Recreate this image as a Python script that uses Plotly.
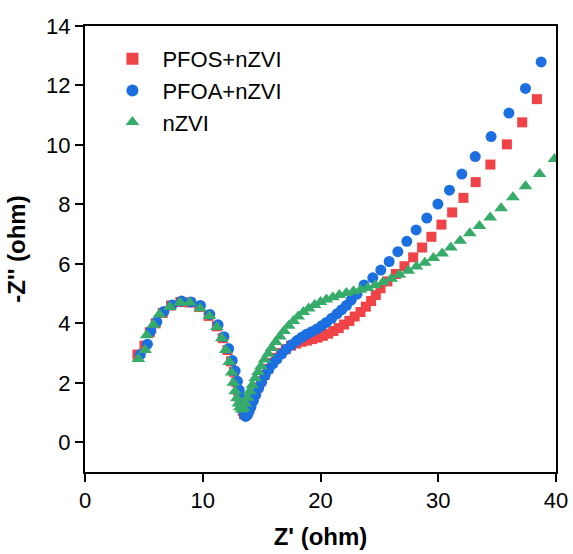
import plotly.graph_objects as go

# PFOS+nZVI (red squares)
pfos_x = [4.45, 5.05, 5.5, 6.0, 6.6, 7.3, 8.1, 8.9, 9.7, 10.5, 11.2, 11.7, 12.1, 12.4, 12.65, 12.85,
          13.0, 13.15, 13.28, 13.4, 13.5, 13.62, 13.75, 13.9, 14.05, 14.25, 14.45, 14.7, 14.95, 15.25,
          15.55, 15.9, 16.25, 16.65, 17.05, 17.5, 17.95, 18.4, 18.85, 19.3, 19.75, 20.2, 20.65, 21.1,
          21.55, 22.0, 22.45, 22.9, 23.4, 23.85, 24.3, 24.7, 25.1, 25.68, 26.4, 27.13, 27.87, 28.63,
          29.42, 30.27, 31.18, 32.14, 33.18, 34.43, 35.83, 37.13, 38.38]
pfos_y = [2.95, 3.25, 3.7, 4.0, 4.35, 4.6, 4.72, 4.7, 4.55, 4.25, 3.9, 3.5, 3.1, 2.72, 2.37, 2.03,
          1.73, 1.46, 1.23, 1.05, 0.95, 0.92, 0.98, 1.1, 1.25, 1.45, 1.63, 1.85, 2.05, 2.27,
          2.47, 2.67, 2.84, 3.0, 3.13, 3.25, 3.32, 3.38, 3.42, 3.47, 3.52, 3.58, 3.65, 3.74,
          3.84, 3.96, 4.08, 4.23, 4.38, 4.56, 4.75, 4.95, 5.18, 5.41, 5.66, 5.92, 6.22, 6.55,
          6.91, 7.32, 7.73, 8.22, 8.75, 9.34, 10.02, 10.76, 11.54]

# PFOA+nZVI (blue circles)
pfoa_x = [4.7, 5.3, 5.6, 6.1, 6.7, 7.4, 8.2, 9.0, 9.8, 10.6, 11.3, 11.8, 12.2, 12.5, 12.75, 12.95,
          13.1, 13.25, 13.35, 13.45, 13.55, 13.65, 13.8, 13.95, 14.1, 14.3, 14.5, 14.75, 15.0, 15.3,
          15.6, 15.95, 16.3, 16.7, 17.1, 17.55, 18.0, 18.4, 18.8, 19.25, 19.7, 20.1, 20.5, 20.95,
          21.4, 21.8, 22.2, 22.6, 23.1, 23.7, 24.44, 25.12, 25.83, 26.57, 27.33, 28.12, 29.03,
          29.97, 30.95, 32.0, 33.14, 34.49, 36.0, 37.41, 38.74]
pfoa_y = [2.95, 3.3, 3.75, 4.05, 4.4, 4.62, 4.75, 4.72, 4.6, 4.3, 3.95, 3.55, 3.15, 2.75, 2.4, 2.05,
          1.75, 1.48, 1.25, 1.05, 0.92, 0.87, 0.92, 1.05, 1.2, 1.4, 1.6, 1.82, 2.02, 2.25,
          2.45, 2.64, 2.8, 2.97, 3.13, 3.28, 3.42, 3.53, 3.63, 3.72, 3.81, 3.92, 4.03, 4.17,
          4.32, 4.46, 4.6, 4.78, 4.98, 5.29, 5.53, 5.79, 6.08, 6.41, 6.76, 7.14, 7.54,
          8.01, 8.48, 9.02, 9.61, 10.28, 11.07, 11.9, 12.79]

# nZVI (green triangles)
nzvi_x = [4.53, 5.1, 5.24, 5.8, 6.31, 7.2, 8.07, 8.9, 9.77, 10.56, 11.19, 11.61, 11.95, 12.25, 12.45,
          12.6, 12.75, 12.9, 13.03, 13.15, 13.3, 13.45, 13.6, 13.8, 14.0, 14.2, 14.45, 14.7, 14.95,
          15.25, 15.55, 15.85, 16.2, 16.55, 16.9, 17.3, 17.7, 18.1, 18.55, 19.0, 19.5, 20.0, 20.5,
          21.05, 21.6, 22.2, 22.8, 23.4, 24.0, 24.65, 25.3, 26.0, 26.7, 27.45, 28.15, 28.86, 29.59,
          30.33, 31.07, 31.86, 32.68, 33.5, 34.41, 35.34, 36.34, 37.41, 38.6, 39.87]
nzvi_y = [2.8, 3.1, 3.6, 3.95, 4.3, 4.55, 4.7, 4.7, 4.5, 4.25, 3.88, 3.5, 3.1, 2.7, 2.35,
          2.0, 1.72, 1.48, 1.3, 1.18, 1.1, 1.15, 1.3, 1.5, 1.72, 1.92, 2.15, 2.36, 2.56,
          2.78, 2.98, 3.17, 3.37, 3.56, 3.74, 3.92, 4.08, 4.23, 4.38, 4.5, 4.62, 4.72, 4.8,
          4.88, 4.95, 5.02, 5.08, 5.13, 5.19, 5.28, 5.38, 5.5, 5.63, 5.77, 5.91, 6.04, 6.2,
          6.35, 6.55, 6.78, 7.03, 7.27, 7.56, 7.87, 8.24, 8.61, 9.02, 9.53]

x_ticks = [0, 10, 20, 30, 40]
y_ticks = [0, 2, 4, 6, 8, 10, 12, 14]

FONT = "Liberation Sans, Arial, sans-serif"

fig = go.Figure()
fig.add_trace(go.Scatter(x=pfos_x, y=pfos_y, mode="markers", name="PFOS+nZVI",
                         marker=dict(symbol="square", size=10, color="#F04347")))
fig.add_trace(go.Scatter(x=pfoa_x, y=pfoa_y, mode="markers", name="PFOA+nZVI",
                         marker=dict(symbol="circle", size=11, color="#1B6FE0")))
fig.add_trace(go.Scatter(x=nzvi_x, y=nzvi_y, mode="markers", name="nZVI",
                         marker=dict(symbol="triangle-up", size=12, color="#37AC6A")))

axis_common = dict(showline=True, linecolor="black", linewidth=2, mirror=True,
                   ticks="outside", ticklen=8, tickwidth=2, tickcolor="black",
                   showgrid=False, zeroline=False, automargin=False,
                   tickfont=dict(family=FONT, size=22, color="black"))

fig.update_layout(
    width=573, height=554,
    margin=dict(l=85, r=17, t=26, b=82),
    paper_bgcolor="white", plot_bgcolor="white",
    font=dict(family=FONT, color="black"),
    xaxis=dict(range=[0, 40], tickvals=x_ticks,
               title=dict(text="<b>Z' (ohm)</b>", font=dict(family=FONT, size=24), standoff=16),
               **axis_common),
    yaxis=dict(range=[-1, 14], tickvals=y_ticks,
               title=dict(text="<b>-Z'' (ohm)</b>", font=dict(family=FONT, size=24), standoff=14),
               **axis_common),
    legend=dict(x=0.037, y=0.973, xanchor="left", yanchor="top",
                font=dict(family=FONT, size=22), bgcolor="rgba(0,0,0,0)",
                itemsizing="constant", itemwidth=50, tracegroupgap=0),
)

fig.write_html("out.html", config={"displayModeBar": False},
               post_script="document.body.style.margin='0';")
